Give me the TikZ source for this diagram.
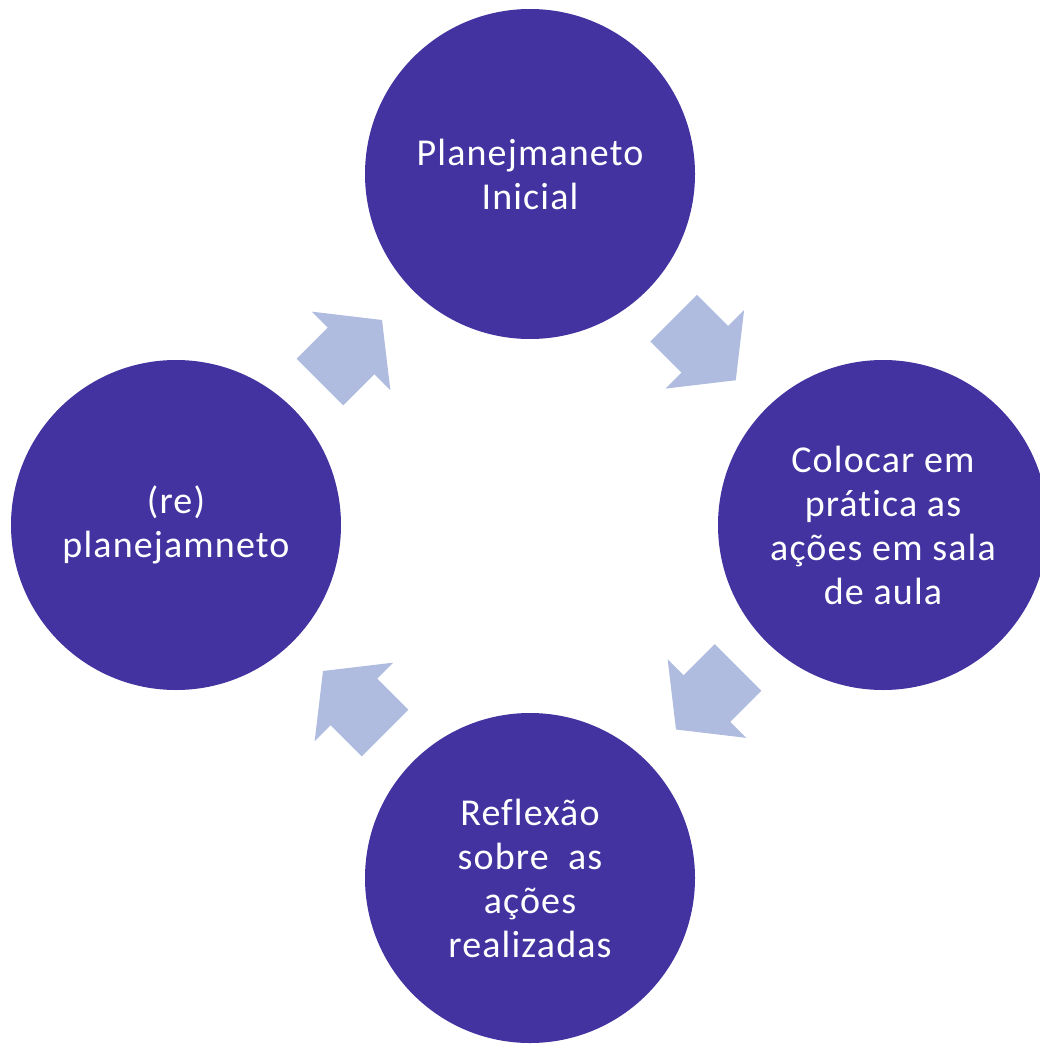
\documentclass[tikz,border=0pt]{standalone}
\usepackage{fontspec}
\setmainfont{Carlito}[LetterSpace=3.0,Ligatures=NoCommon]
\definecolor{circ}{RGB}{67,51,161}
\definecolor{arr}{RGB}{175,188,223}
\tikzset{
  stage/.style={circle, fill=circ, minimum size=330pt, inner sep=0pt, text=white,
    align=center, font=\fontsize{38}{44}\selectfont},
  blockarrow/.style={fill=arr, draw=none}
}
\newcommand{\cyclearrow}[2]{%
  \fill[blockarrow, shift={#1}, rotate=#2]
    (-43.85,-33) -- (0.15,-33) -- (0.15,-55.5) -- (43.85,0) -- (0.15,55.5) -- (0.15,33) -- (-43.85,33) -- cycle;}
\begin{document}
\begin{tikzpicture}[x=1pt,y=-1pt]
\useasboundingbox (0,0) rectangle (1040,1046);
\node[stage] (top) at (530,174) {Planejmaneto\\Inicial};
\node[stage] (right) at (883,525) {Colocar em\\prática as\\ações em sala\\de aula};
\node[stage] (bottom) at (530,878) {Reflexão\\sobre\ \ as\\ações\\realizadas};
\node[stage] (left) at (176,525) {(re)\\planejamneto};
\coordinate (a1) at (704.75,349.25);
\coordinate (a2) at (707,698.5);
\coordinate (a3) at (354,702);
\coordinate (a4) at (351,351);
\cyclearrow{(a1)}{-45}
\cyclearrow{(a2)}{-135}
\cyclearrow{(a3)}{135}
\cyclearrow{(a4)}{45}
\end{tikzpicture}
\end{document}
